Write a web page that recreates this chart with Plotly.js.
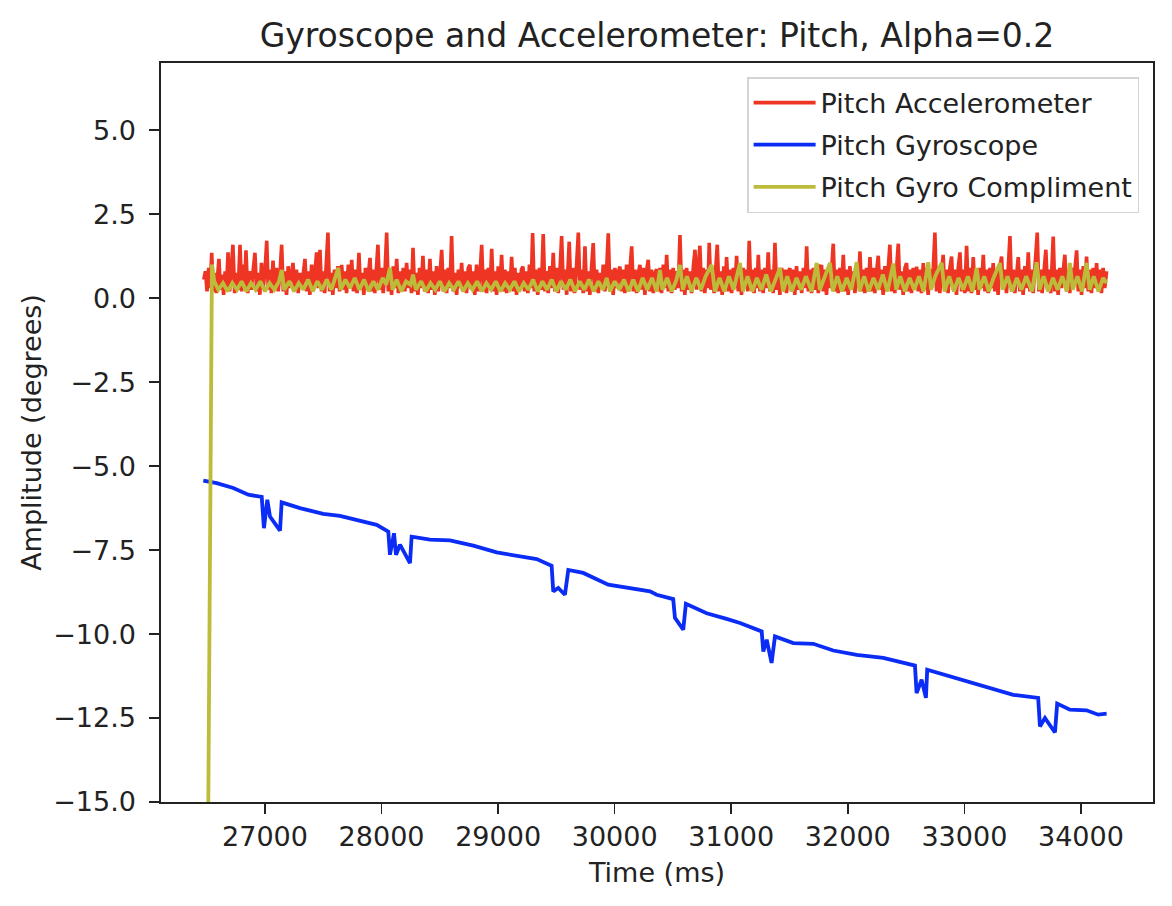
<!DOCTYPE html>
<html>
<head>
<meta charset="utf-8">
<script src="https://cdn.plot.ly/plotly-3.0.1.min.js"></script>
<style>
  html, body { margin: 0; padding: 0; background: #fff; }
  #chart { width: 1172px; height: 906px; }
</style>
</head>
<body>
<div id="chart"></div>
<script>
// ---- Data ----
const seriesNames = ["Pitch Accelerometer", "Pitch Gyroscope", "Pitch Gyro Compliment"];

const accelTime = [
26475,26489,26503,26517,26530,
26543,26556,26569,26582,26593,
26605,26618,26632,26645,26658,26670,
26683,26697,26711,
26725,26740,26755,26770,
26786,26800,26812,26825,
26837,26852,26867,26882,26898,
26914,26928,26942,26956,26970,26985,27000,
27015,27028,27042,27055,
27069,27083,27098,27113,27128,
27143,27157,27171,27185,27199,27213,27227,
27240,27255,27270,27285,27300,27315,27329,
27343,27357,27371,27385,27400,27415,27429,
27443,27457,
27472,27485,27498,27512,27526,
27540,27554,27568,27582,27596,27610,27625,27640,
27658,27672,27686,27700,27715,27730,
27744,27759,27775,27790,
27806,27820,27834,27848,27862,27876,27889,
27901,27915,27928,27942,27955,
27969,27984,27999,28014,28029,
28044,28058,28072,28086,28100,28115,
28130,28144,28158,28172,28186,28200,
28215,28229,28243,28257,
28270,28284,28298,28312,28326,28340,
28355,28370,28385,28400,
28415,28429,28443,28457,28472,28487,28502,
28516,28530,28544,28558,28572,28587,
28601,28615,28629,28644,28659,28673,
28687,28701,28715,28729,28744,
28758,28772,28786,28800,28815,28830,28845,
28859,28873,28887,28901,28916,28931,
28945,28959,28973,28987,29001,29016,
29030,29044,29058,29073,29087,29102,
29116,29130,29144,29158,29172,29186,29200,
29213,29227,29241,29255,29269,29283,
29296,29310,29325,29340,29355,29371,
29387,29401,29415,29430,29444,29459,
29473,29487,29501,29516,29530,
29545,29560,29574,29588,29599,
29610,29625,29640,29655,29670,
29688,29702,29716,29730,
29745,29759,29773,29787,29802,
29816,29830,29845,29860,29874,29888,29902,29916,29930,
29945,29959,29973,29987,30002,30016,30030,
30045,30059,30073,30087,30102,30117,30132,
30146,30160,30174,30188,30203,
30217,30231,30245,30259,30273,
30288,30302,30316,30331,30346,
30360,30374,30388,30402,30417,30432,
30446,30460,30474,30488,30502,30516,30531,30545,
30560,30574,30588,30602,30617,30632,30646,30660,30675,
30689,30703,30717,
30731,30745,30759,30773,30788,30800,
30811,30825,30839,30853,30867,
30880,30894,30908,30922,30936,30948,
30960,30974,30988,31003,31018,31032,
31046,31060,31074,31088,31102,31116,31130,31142,
31154,31168,31182,31196,31210,31221,
31232,31246,31260,31274,31289,31303,
31317,31331,31345,31360,
31375,31389,31403,31417,31432,31446,31460,31474,31489,
31503,31517,31531,31545,31560,31575,31590,31604,31619,31633,
31647,31661,31675,31689,31704,31718,31733,31747,31761,
31775,31789,31803,31817,31832,31846,31860,
31875,31889,31903,31917,31932,31947,
31961,31975,31989,32003,32018,32032,32047,32061,32076,32090,
32104,32118,32132,32146,32161,32176,
32190,32204,32218,32232,32247,
32261,32275,32289,32303,32318,32332,32347,
32361,32375,32389,32403,32418,
32433,32447,32461,32475,32490,
32504,32518,32532,32546,32561,32576,
32590,32604,32618,32632,
32647,32661,32675,32689,32704,32718,32733,
32747,32761,32775,32789,32804,
32818,32832,32846,32860,32875,
32890,32904,32918,32932,32947,
32962,32976,32990,33004,
33019,33033,33047,33061,
33076,33090,33104,33118,33133,33147,
33162,33176,33190,33204,33219,33233,
33247,33261,33275,33289,33304,
33319,33333,33347,33361,33376,
33391,33405,33419,33433,33448,
33462,33476,33490,33504,33519,33533,
33548,33562,33576,33590,33605,
33625,33639,33653,33667,33682,
33699,33713,33727,33741,
33762,33776,33790,33804,33819,33833,33847,
33862,33876,33890,33904,33919,33933,33948,
33963,33977,33991,34005,34020,34034,
34048,34062,34076,34090,34105,34120,
34134,34148,34162,34176,34190,34204,34220];
const accelPitch = [
0.55,0.8,0.2,0.9,0.3,
1.35,0.2,0.75,0.15,0.85,
1.17,0.25,0.7,0.1,0.8,0.3,
1.36,0.2,0.9,
1.59,0.15,0.75,0.25,
1.59,0.2,1.0,0.3,
1.42,0.15,0.8,0.25,0.9,
1.35,0.2,0.75,0.1,1.05,0.3,0.8,
1.71,0.25,0.85,0.15,
1.12,0.3,0.9,0.2,0.7,
1.59,0.2,0.8,0.1,0.95,0.3,0.7,
1.05,0.25,0.85,0.15,0.75,0.3,0.9,
1.17,0.2,0.8,0.1,1.0,0.25,0.7,
1.36,0.3,
1.44,0.2,0.8,0.15,0.9,
1.95,0.2,0.75,0.1,0.85,0.3,0.95,0.2,
0.99,0.25,0.8,0.15,1.0,0.3,
1.14,0.2,0.85,0.15,
1.35,0.25,0.75,0.1,0.9,0.3,0.8,
1.2,0.2,0.85,0.15,0.7,
1.59,0.25,0.9,0.15,0.75,
1.95,0.2,0.8,0.1,0.95,0.3,
1.17,0.15,0.8,0.25,0.9,0.2,
1.05,0.3,0.85,0.15,
1.5,0.2,0.75,0.1,0.9,0.3,
1.26,0.2,0.85,0.15,
1.17,0.25,0.8,0.1,0.95,0.2,0.75,
1.44,0.2,0.85,0.15,0.9,0.3,
1.85,0.2,0.75,0.1,0.85,0.3,
1.05,0.2,0.8,0.15,0.9,
0.99,0.25,0.8,0.1,1.0,0.2,0.75,
1.59,0.2,0.85,0.15,0.9,0.3,
1.47,0.2,0.8,0.1,0.95,0.25,
1.29,0.2,0.85,0.15,0.8,0.3,
1.23,0.2,0.9,0.1,0.75,0.25,0.85,
0.94,0.2,0.8,0.15,1.0,0.3,
1.94,0.2,0.85,0.1,0.9,0.25,
1.91,0.2,0.8,0.15,0.95,0.3,
1.35,0.2,0.9,0.15,0.8,
1.85,0.25,0.85,0.1,0.75,
1.68,0.2,0.9,0.15,0.8,
1.95,0.25,0.85,0.15,
1.54,0.2,0.8,0.1,0.95,
1.64,0.2,0.85,0.15,0.75,0.3,1.0,0.2,0.8,
1.93,0.25,0.85,0.1,0.9,0.3,0.75,
0.94,0.2,0.85,0.15,1.0,0.25,0.8,
1.54,0.2,0.85,0.15,0.75,
0.99,0.25,0.9,0.1,0.8,
1.14,0.2,0.85,0.15,0.75,
0.86,0.2,0.9,0.15,1.0,0.3,
1.29,0.2,0.85,0.15,0.9,0.25,0.8,0.3,
1.88,0.2,0.85,0.1,0.9,0.25,0.8,0.15,0.95,
1.44,0.25,0.8,
1.56,0.2,0.9,0.15,0.85,0.3,
1.65,0.25,0.85,0.15,0.9,
1.59,0.2,0.8,0.1,0.95,0.3,
1.22,0.2,0.85,0.15,0.9,0.3,
1.26,0.2,0.8,0.1,0.9,0.3,0.85,0.2,
1.71,0.25,0.85,0.15,0.9,0.3,
1.29,0.2,0.85,0.15,0.9,0.3,
1.36,0.2,0.85,0.15,
1.65,0.25,0.8,0.1,0.9,0.3,0.85,0.15,0.8,
0.89,0.2,0.85,0.1,0.95,0.25,0.8,0.15,0.9,0.3,
1.54,0.2,0.85,0.15,0.9,0.25,0.8,0.15,0.95,
0.94,0.2,0.85,0.1,0.9,0.3,0.8,
1.62,0.2,0.85,0.15,0.9,0.3,
1.29,0.2,0.85,0.1,0.95,0.25,0.8,0.15,0.9,0.3,
1.39,0.2,0.85,0.15,0.9,0.3,
1.22,0.2,0.9,0.15,0.8,
1.26,0.25,0.85,0.1,0.95,0.2,0.8,
1.59,0.2,0.85,0.15,0.9,
1.62,0.25,0.8,0.1,0.9,
1.04,0.2,0.85,0.15,0.9,0.3,
0.94,0.2,0.85,0.15,
1.04,0.25,0.9,0.1,0.85,0.3,0.9,
1.95,0.2,0.85,0.15,0.9,
1.29,0.2,0.85,0.15,0.9,
1.24,0.25,0.85,0.1,0.9,
1.36,0.2,0.85,0.15,
1.56,0.2,0.9,0.15,
1.22,0.25,0.85,0.1,0.9,0.3,
1.29,0.2,0.85,0.15,0.9,0.3,
1.04,0.2,0.85,0.1,0.9,
1.24,0.25,0.85,0.15,0.9,
1.85,0.2,0.85,0.15,0.9,
1.22,0.2,0.85,0.1,0.95,0.3,
1.36,0.2,0.85,0.15,0.9,
1.95,0.2,0.85,0.15,0.9,
1.44,0.25,0.85,0.15,
1.83,0.2,0.85,0.1,0.9,0.3,0.85,
1.29,0.2,0.85,0.15,0.9,0.3,0.8,
1.42,0.2,0.85,0.1,0.95,0.3,
1.24,0.2,0.85,0.15,0.9,0.3,
1.04,0.25,0.85,0.15,0.9,0.3,0.8];

const gyroTime = [
26471,26586,26728,26857,26972,26991,27020,27043,27129,27143,27300,27500,27643,27815,27958,28058,28072,28107,28124,28158,
28244,28258,28415,28587,28787,28988,29187,29331,29459,29473,29516,29573,29602,29730,29945,30131,30303,30360,30502,30517,
30588,30611,30789,30960,31075,31261,31275,31304,31346,31375,31532,31703,31875,32076,32304,32576,32590,32633,32670,32681,
32876,33076,33247,33419,33633,33648,33691,33777,33796,33905,34048,34148,34220];
const gyroPitch = [
-5.43,-5.51,-5.65,-5.85,-5.92,-6.85,-6.0,-6.5,-6.92,-6.08,-6.25,-6.42,-6.48,-6.62,-6.75,-6.95,-7.64,-7.0,-7.64,-7.34,
-7.89,-7.1,-7.19,-7.21,-7.37,-7.57,-7.69,-7.77,-7.97,-8.73,-8.63,-8.83,-8.09,-8.18,-8.53,-8.63,-8.73,-8.83,-8.96,-9.52,
-9.87,-9.1,-9.38,-9.55,-9.67,-9.92,-10.52,-10.17,-10.86,-10.07,-10.27,-10.29,-10.49,-10.62,-10.71,-10.94,-11.76,-11.36,-11.9,-11.06,
-11.26,-11.46,-11.66,-11.81,-11.9,-12.75,-12.5,-12.93,-12.07,-12.25,-12.27,-12.4,-12.37];

const complTime = [
26475,26545,26565,26600,26640,26680,26720,26760,26800,26840,26880,26920,26960,27000,27040,27080,27120,27143,27165,27210,
27250,27290,27330,27370,27410,27450,27490,27530,27570,27600,27629,27650,27690,27730,27770,27810,27850,27890,27930,27970,
28010,28040,28072,28095,28130,28170,28210,28250,28270,28295,28340,28380,28420,28460,28500,28540,28580,28620,28660,28700,
28740,28780,28820,28860,28900,28940,28980,29020,29060,29100,29140,29180,29220,29260,29300,29340,29380,29420,29460,29500,
29540,29580,29620,29660,29700,29740,29780,29820,29860,29900,29931,29960,30000,30040,30080,30120,30160,30200,30240,30280,
30320,30360,30388,30410,30450,30490,30530,30560,30585,30620,30660,30700,30740,30780,30832,30860,30900,30940,30980,31020,
31075,31100,31140,31180,31220,31260,31300,31340,31380,31418,31445,31480,31520,31560,31600,31640,31690,31733,31760,31800,
31847,31870,31910,31950,31990,32030,32076,32100,32140,32180,32220,32260,32300,32340,32390,32415,32450,32490,32530,32570,
32610,32650,32690,32715,32750,32805,32830,32870,32910,32950,32990,33030,33070,33105,33130,33170,33210,33250,33305,33330,
33370,33410,33450,33490,33530,33580,33620,33645,33680,33720,33760,33800,33840,33880,33905,33930,33970,34010,34048,34075,
34110,34150,34190,34220];
const complPitch = [
-35,1.0,0.5,0.25,0.45,0.2,0.45,0.25,0.5,0.2,0.45,0.25,0.5,0.2,0.45,0.25,0.5,0.84,0.25,0.5,
0.2,0.45,0.25,0.55,0.2,0.5,0.25,0.55,0.25,0.6,0.9,0.25,0.55,0.3,0.6,0.25,0.55,0.2,0.5,0.25,
0.6,0.4,0.9,0.25,0.55,0.2,0.5,0.4,0.7,0.25,0.5,0.2,0.45,0.25,0.5,0.2,0.45,0.25,0.5,0.2,
0.45,0.25,0.5,0.2,0.45,0.25,0.5,0.2,0.45,0.25,0.5,0.2,0.45,0.25,0.55,0.2,0.5,0.25,0.55,0.2,
0.5,0.25,0.55,0.2,0.5,0.25,0.55,0.2,0.5,0.25,0.6,0.2,0.5,0.25,0.55,0.2,0.55,0.2,0.6,0.25,
0.6,0.2,0.84,0.25,0.6,0.2,0.55,0.99,0.25,0.65,0.2,0.6,0.25,0.65,0.99,0.2,0.6,0.2,0.65,0.25,
1.05,0.2,0.65,0.2,0.6,0.25,0.7,0.2,0.6,0.9,0.2,0.65,0.2,0.6,0.25,0.65,0.2,1.05,0.25,0.65,
1.05,0.2,0.65,0.2,0.6,0.25,1.07,0.2,0.65,0.2,0.6,0.25,0.7,0.2,1.03,0.25,0.65,0.2,0.6,0.25,
0.65,0.2,1.07,0.25,0.65,1.05,0.2,0.65,0.2,0.6,0.25,0.65,0.2,0.9,0.25,0.65,0.2,0.6,1.05,0.25,
0.65,0.2,0.6,0.25,0.65,0.2,1.07,0.25,0.65,0.2,0.6,0.25,0.65,0.2,1.05,0.25,0.65,0.2,1.05,0.25,
0.65,0.2,0.6,0.45];

const xTickVals = [27000, 28000, 29000, 30000, 31000, 32000, 33000, 34000];
const xTickText = ["27000", "28000", "29000", "30000", "31000", "32000", "33000", "34000"];
const yTickVals = [-15, -12.5, -10, -7.5, -5, -2.5, 0, 2.5, 5];
const yTickText = ["\u221215.0", "\u221212.5", "\u221210.0", "\u22127.5", "\u22125.0", "\u22122.5", "0.0", "2.5", "5.0"];

// ---- Styles ----
const FONT = "DejaVu Sans, sans-serif";
const TXT = "#222222";
const colors = ["#ee3524", "#0a2cf5", "#bdbc3a"];

const traces = [
  { x: accelTime, y: accelPitch, name: seriesNames[0], legendgroup: "a", mode: "lines", line: { color: colors[0], width: 3.6 } },
  { x: gyroTime, y: gyroPitch, name: seriesNames[1], legendgroup: "b", mode: "lines", line: { color: colors[1], width: 3.8 } },
  { x: complTime, y: complPitch, name: seriesNames[2], legendgroup: "c", mode: "lines", line: { color: colors[2], width: 3.8 } }
];

const layout = {
  width: 1172, height: 906,
  paper_bgcolor: "#ffffff", plot_bgcolor: "#ffffff",
  margin: { l: 161, r: 19, t: 63, b: 104, pad: 0 },
  font: { family: FONT, size: 27, color: TXT },
  title: {
    text: "Gyroscope and Accelerometer: Pitch, Alpha=0.2",
    font: { family: FONT, size: 33, color: TXT },
    xref: "paper", x: 0.5, xanchor: "center",
    yref: "container", y: 1 - 35 / 906, yanchor: "middle"
  },
  xaxis: {
    range: [26108, 34618], autorange: false,
    tickvals: xTickVals, ticktext: xTickText,
    ticks: "outside", ticklen: 10, tickwidth: 1.6, tickcolor: TXT,
    showline: true, linecolor: TXT, linewidth: 1.6, mirror: true,
    showgrid: false, zeroline: false, automargin: false,
    tickfont: { family: FONT, size: 27, color: TXT },
    title: { text: "Time (ms)", font: { family: FONT, size: 27, color: TXT }, standoff: 12 }
  },
  yaxis: {
    range: [-15, 7.0], autorange: false,
    tickvals: yTickVals, ticktext: yTickText,
    ticks: "outside", ticklen: 10, tickwidth: 1.6, tickcolor: TXT,
    ticklabelstandoff: 8,
    showline: true, linecolor: TXT, linewidth: 1.6, mirror: true,
    showgrid: false, zeroline: false, automargin: false,
    tickfont: { family: FONT, size: 27, color: TXT },
    title: { text: "Amplitude (degrees)", font: { family: FONT, size: 27, color: TXT }, standoff: 4 }
  },
  showlegend: true,
  legend: {
    x: 0.986, xanchor: "right", y: 0.981, yanchor: "top",
    bgcolor: "rgba(255,255,255,0.8)", bordercolor: "#d4d4d4", borderwidth: 1.5,
    font: { family: FONT, size: 27, color: TXT },
    traceorder: "grouped", tracegroupgap: 4,
    itemwidth: 62
  }
};

Plotly.newPlot("chart", traces, layout, { displayModeBar: false, staticPlot: true });
</script>
</body>
</html>
